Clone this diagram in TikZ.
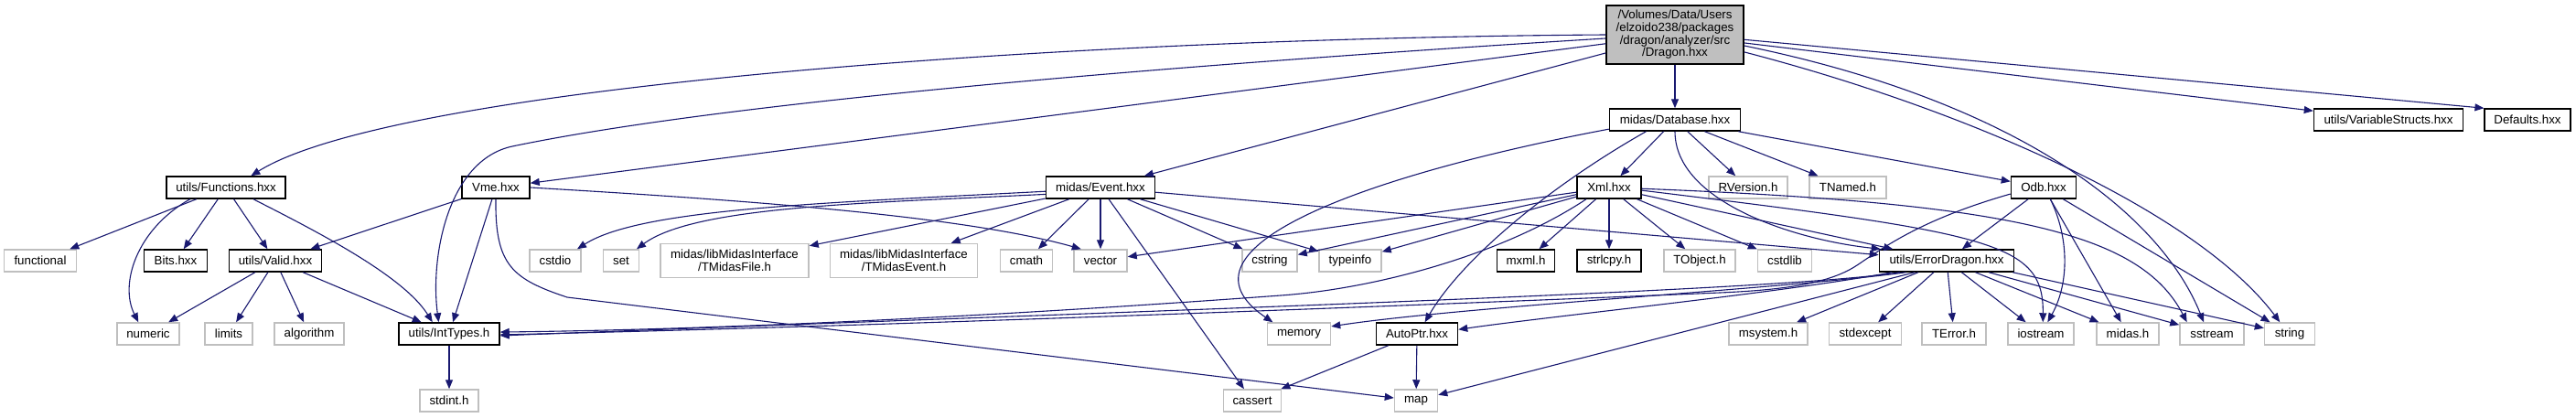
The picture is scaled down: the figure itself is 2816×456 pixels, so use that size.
\documentclass[tikz,border=0pt]{standalone}
\usepackage{fontspec}
\setmainfont{Liberation Sans}
\usetikzlibrary{arrows.meta}
\definecolor{edgeblue}{HTML}{191970}
\definecolor{nodegray}{HTML}{BFBFBF}
\newcommand{\nodefont}{\fontsize{13.3}{13.7}\selectfont}
\tikzset{
  box/.style={line width=1.5pt, inner sep=0pt, minimum height=24pt, font=\nodefont, align=center, text=black},
  gbox/.style={box, draw=nodegray},
  bbox/.style={box, draw=black},
  dep/.style={draw=edgeblue, line width=1.1pt, -{Triangle[length=10pt,width=8pt]}},
}
\begin{document}
\begin{tikzpicture}[x=1pt,y=-1pt]
\fill[white] (0,0) rectangle (2816,456);
\useasboundingbox (0,0) rectangle (2816,456);
% row 0
\node[bbox, fill=nodegray, minimum width=150pt, minimum height=64pt] (dragon) at (1831,38) {/Volumes/Data/Users\\/elzoido238/packages\\/dragon/analyzer/src\\/Dragon.hxx};
% row 1
\node[bbox, minimum width=143pt] (database) at (1831,131) {midas/Database.hxx};
\node[bbox, minimum width=163pt] (varstructs) at (2611,131) {utils/VariableStructs.hxx};
\node[bbox, minimum width=94pt] (defaults) at (2763,131) {Defaults.hxx};
% row 2
\node[bbox, minimum width=130pt] (functions) at (247,205) {utils/Functions.hxx};
\node[bbox, minimum width=74pt] (vme) at (542,205) {Vme.hxx};
\node[bbox, minimum width=119pt] (event) at (1203,205) {midas/Event.hxx};
\node[bbox, minimum width=70pt] (xml) at (1759,205) {Xml.hxx};
\node[gbox, minimum width=86pt] (rversion) at (1911,205) {RVersion.h};
\node[gbox, minimum width=84pt] (tnamed) at (2020,205) {TNamed.h};
\node[bbox, minimum width=71pt] (odb) at (2234,205) {Odb.hxx};
% row 3
\node[gbox, minimum width=79pt] (functional) at (44,285) {functional};
\node[bbox, minimum width=69pt] (bits) at (192,285) {Bits.hxx};
\node[bbox, minimum width=101pt] (valid) at (301,285) {utils/Valid.hxx};
\node[gbox, minimum width=56pt] (cstdio) at (607,285) {cstdio};
\node[gbox, minimum width=39pt] (set) at (679,285) {set};
\node[gbox, minimum width=162pt, minimum height=37pt] (tmidasfile) at (803,285) {midas/libMidasInterface\\/TMidasFile.h};
\node[gbox, minimum width=161pt, minimum height=37pt] (tmidasevent) at (988,285) {midas/libMidasInterface\\/TMidasEvent.h};
\node[gbox, minimum width=57pt] (cmath) at (1122,285) {cmath};
\node[gbox, minimum width=58pt] (vector) at (1203,285) {vector};
\node[gbox, minimum width=60pt] (cstring) at (1388,285) {cstring};
\node[gbox, minimum width=68pt] (typeinfo) at (1476,285) {typeinfo};
\node[bbox, minimum width=63pt] (mxml) at (1668,285) {mxml.h};
\node[bbox, minimum width=70pt] (strlcpy) at (1759,285) {strlcpy.h};
\node[gbox, minimum width=78pt] (tobject) at (1858,285) {TObject.h};
\node[gbox, minimum width=59pt] (cstdlib) at (1951,285) {cstdlib};
\node[bbox, minimum width=147pt] (errordragon) at (2128,285) {utils/ErrorDragon.hxx};
% row 4
\node[gbox, minimum width=68pt] (numeric) at (162,365) {numeric};
\node[gbox, minimum width=52pt] (limits) at (250,365) {limits};
\node[gbox, minimum width=76pt] (algorithm) at (338,365) {algorithm};
\node[bbox, minimum width=110pt] (inttypes) at (491,365) {utils/IntTypes.h};
\node[gbox, minimum width=69pt] (memory) at (1420,365) {memory};
\node[bbox, minimum width=89pt] (autoptr) at (1549,365) {AutoPtr.hxx};
\node[gbox, minimum width=86pt] (msystem) at (1933,365) {msystem.h};
\node[gbox, minimum width=79pt] (stdexcept) at (2039,365) {stdexcept};
\node[gbox, minimum width=70pt] (terror) at (2136,365) {TError.h};
\node[gbox, minimum width=72pt] (iostream) at (2231,365) {iostream};
\node[gbox, minimum width=68pt] (midash) at (2326,365) {midas.h};
\node[gbox, minimum width=70pt] (sstream) at (2418,365) {sstream};
\node[gbox, minimum width=55pt] (string) at (2503,365) {string};
% row 5
\node[gbox, minimum width=64pt] (stdint) at (491,438) {stdint.h};
\node[gbox, minimum width=63pt] (cassert) at (1369,438) {cassert};
\node[gbox, minimum width=47pt] (map) at (1548,438) {map};

% Dragon
\draw[dep] (dragon.west) .. controls (1150,42) and (430,95) .. (functions.25);
\draw[dep] (dragon.183) .. controls (1300,70) and (800,110) .. (560,160) .. controls (490,175) and (470,280) .. (inttypes.132);
\draw[dep] (dragon) -- (vme);
\draw[dep] (dragon) -- (event);
\draw[dep] (dragon) -- (database);
\draw[dep] (dragon) -- (varstructs);
\draw[dep] (dragon.-4) -- (defaults.165);
\draw[dep] (dragon.-9) .. controls (2200,110) and (2360,230) .. (sstream.125);
\draw[dep] (dragon.-14) .. controls (2150,120) and (2400,230) .. (string.130);
% Database
\draw[dep] (database.188) .. controls (1500,190) and (1270,270) .. (memory.156);
\draw[dep] (database.202) .. controls (1700,200) and (1600,280) .. (autoptr.56);
\draw[dep] (database) -- (xml);
\draw[dep] (database.south) .. controls (1831,220) and (1960,262) .. (errordragon.170);
\draw[dep] (database) -- (rversion);
\draw[dep] (database) -- (tnamed);
\draw[dep] (database) -- (odb);
% Functions
\draw[dep] (functions) -- (functional);
\draw[dep] (functions.198) .. controls (150,250) and (130,310) .. (numeric.130);
\draw[dep] (functions) -- (bits);
\draw[dep] (functions) -- (valid);
\draw[dep] (functions.-23) .. controls (340,250) and (440,300) .. (inttypes.145);
% Vme
\draw[dep] (vme) -- (valid);
\draw[dep] (vme) -- (inttypes);
\draw[dep] (vme.east) .. controls (800,218) and (1050,235) .. (vector.149);
\draw[dep] (vme.south) .. controls (541,290) and (560,305) .. (620,325) -- (map.173);
% Valid
\draw[dep] (valid) -- (numeric);
\draw[dep] (valid) -- (limits);
\draw[dep] (valid) -- (algorithm);
\draw[dep] (valid) -- (inttypes);
\draw[dep] (inttypes) -- (stdint);
% Event
\draw[dep] (event.184) .. controls (900,222) and (700,228) .. (cstdio.28);
\draw[dep] (event.187) .. controls (950,222) and (760,225) .. (set.37);
\draw[dep] (event) -- (tmidasfile);
\draw[dep] (event) -- (tmidasevent);
\draw[dep] (event) -- (cmath);
\draw[dep] (event) -- (vector);
\draw[dep] (event) -- (cassert);
\draw[dep] (event) -- (cstring);
\draw[dep] (event) -- (typeinfo);
\draw[dep] (event) -- (errordragon);
% Xml
\draw[dep] (xml) -- (vector);
\draw[dep] (xml) -- (cstring);
\draw[dep] (xml) -- (typeinfo);
\draw[dep] (xml.207) .. controls (1640,280) and (1500,316) .. (1400,323) .. controls (1100,345) and (800,360) .. (inttypes.2);
\draw[dep] (xml) -- (mxml);
\draw[dep] (xml) -- (strlcpy);
\draw[dep] (xml) -- (tobject);
\draw[dep] (xml) -- (cstdlib);
\draw[dep] (xml) -- (errordragon);
\draw[dep] (xml.-5) .. controls (2180,255) and (2234,265) .. (iostream.80);
\draw[dep] (xml.-2) .. controls (2200,222) and (2340,255) .. (sstream.155);
% Odb
\draw[dep] (odb.191) .. controls (2100,240) and (2060,270) .. (2030,290) .. controls (2000,310) and (1950,317) .. (1880,320) .. controls (1400,340) and (900,358) .. (inttypes.-1);
\draw[dep] (odb) -- (errordragon);
\draw[dep] (odb.-60) .. controls (2262,260) and (2262,310) .. (iostream.60);
\draw[dep] (odb) -- (midash);
\draw[dep] (odb) -- (string);
% ErrorDragon
\draw[dep] (errordragon.194) .. controls (1950,318) and (1300,338) .. (inttypes.-2);
\draw[dep] (errordragon.196) .. controls (1950,316) and (1600,335) .. (memory.13);
\draw[dep] (errordragon.192) .. controls (1950,320) and (1700,345) .. (autoptr.6);
\draw[dep] (errordragon.-160) -- (map);
\draw[dep] (errordragon) -- (msystem);
\draw[dep] (errordragon) -- (stdexcept);
\draw[dep] (errordragon) -- (terror);
\draw[dep] (errordragon) -- (iostream);
\draw[dep] (errordragon) -- (midash);
\draw[dep] (errordragon) -- (sstream);
\draw[dep] (errordragon.-10) -- (string);
% AutoPtr
\draw[dep] (autoptr) -- (cassert);
\draw[dep] (autoptr) -- (map);
\end{tikzpicture}
\end{document}
